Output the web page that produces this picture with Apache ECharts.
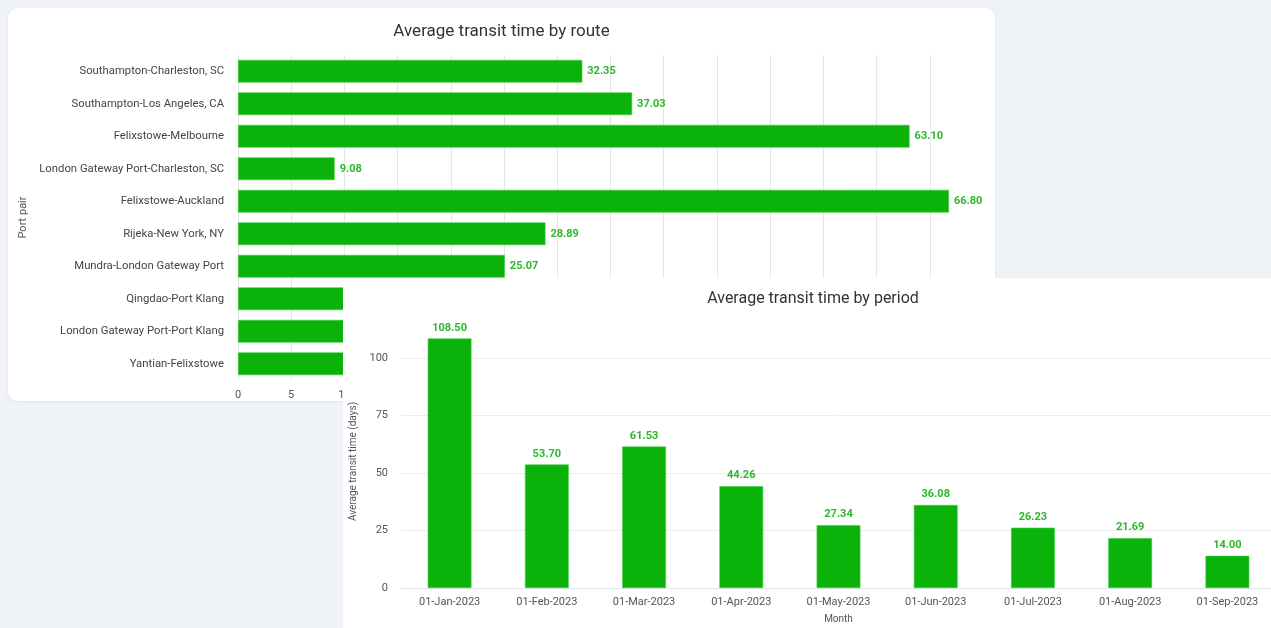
<!DOCTYPE html>
<html>
<head>
<meta charset="utf-8">
<script src="https://cdn.jsdelivr.net/npm/echarts@6/dist/echarts.min.js"></script>
<style>
  html, body { margin: 0; padding: 0; width: 1271px; height: 628px; overflow: hidden; background: #eff3f7; font-family: Roboto, sans-serif; }
  #card1 { position: absolute; left: 8px; top: 8px; width: 987px; height: 393px; background: #fff; border-radius: 10px; box-shadow: 0 1px 4px rgba(0,0,0,0.06); }
  #card2 { position: absolute; left: 343px; top: 278px; width: 940px; height: 350px; background: #fff; border-top-left-radius: 4px; }
  #c1, #c2 { width: 100%; height: 100%; }
</style>
</head>
<body>
<div id="card1"><div id="c1"></div></div>
<div id="card2"><div id="c2"></div></div>
<script>
// ---- Data: route chart ----
const routeCategories = [
  "Southampton-Charleston, SC",
  "Southampton-Los Angeles, CA",
  "Felixstowe-Melbourne",
  "London Gateway Port-Charleston, SC",
  "Felixstowe-Auckland",
  "Rijeka-New York, NY",
  "Mundra-London Gateway Port",
  "Qingdao-Port Klang",
  "London Gateway Port-Port Klang",
  "Yantian-Felixstowe"
];
const routeValues = [32.35, 37.03, 63.10, 9.08, 66.80, 28.89, 25.07, 20.50, 18.00, 15.00];

// ---- Data: period chart ----
const periodCategories = [
  "01-Jan-2023", "01-Feb-2023", "01-Mar-2023", "01-Apr-2023", "01-May-2023",
  "01-Jun-2023", "01-Jul-2023", "01-Aug-2023", "01-Sep-2023"
];
const periodValues = [108.50, 53.70, 61.53, 44.26, 27.34, 36.08, 26.23, 21.69, 14.00];

const barColor = '#0ab20a';
const labelColor = '#2bb82b';
const fontFam = 'Roboto, sans-serif';

const c1 = echarts.init(document.getElementById('c1'));
c1.setOption({
  animation: false,
  textStyle: { fontFamily: fontFam },
  title: {
    text: 'Average transit time by route',
    left: 'center', top: 10,
    textStyle: { fontSize: 17, fontWeight: 'normal', color: '#333', fontFamily: fontFam }
  },
  grid: { left: 230, right: 12, top: 47, bottom: 21, containLabel: false, outerBoundsMode: 'none' },
  xAxis: {
    type: 'value', min: 0, max: 70, interval: 5,
    axisLine: { show: false }, axisTick: { show: false },
    axisLabel: { color: '#555', fontSize: 11, margin: 10, showMaxLabel: false },
    splitLine: { show: true, showMaxLine: false, lineStyle: { color: '#e6e6e6' } }
  },
  yAxis: {
    type: 'category', data: routeCategories, inverse: true,
    name: 'Port pair', nameLocation: 'middle', nameGap: 202,
    nameTextStyle: { color: '#555', fontSize: 11 },
    axisLine: { show: true, lineStyle: { color: '#e0e6f1' } },
    axisTick: { show: false },
    axisLabel: { color: '#444', fontSize: 11.3, margin: 14 }
  },
  series: [{
    type: 'bar', data: routeValues, barCategoryGap: '30%',
    itemStyle: { color: barColor, borderColor: '#3fcc3f', borderWidth: 0.6 },
    label: {
      show: true, position: 'right', distance: 5,
      color: labelColor, fontWeight: 'bold', fontSize: 11,
      formatter: p => p.value.toFixed(2)
    }
  }]
});

const c2 = echarts.init(document.getElementById('c2'));
c2.setOption({
  animation: false,
  textStyle: { fontFamily: fontFam },
  title: {
    text: 'Average transit time by period',
    left: 'center', top: 8,
    textStyle: { fontSize: 16, fontWeight: 'normal', color: '#333', fontFamily: fontFam }
  },
  grid: { left: 58, right: 7, top: 57, bottom: 40, containLabel: false, outerBoundsMode: 'none' },
  xAxis: {
    type: 'category', data: periodCategories,
    name: 'Month', nameLocation: 'middle', nameGap: 26,
    nameTextStyle: { color: '#555', fontSize: 10 },
    axisLine: { show: true, lineStyle: { color: '#dfe5f0' } },
    axisTick: { show: false },
    axisLabel: { color: '#555', fontSize: 11, margin: 9 }
  },
  yAxis: {
    type: 'value', min: 0, max: 110, interval: 25,
    name: 'Average transit time (days)', nameLocation: 'middle', nameGap: 40,
    nameTextStyle: { color: '#555', fontSize: 10 },
    axisLine: { show: false }, axisTick: { show: false },
    axisLabel: { color: '#555', fontSize: 11, margin: 13, showMaxLabel: false },
    splitLine: { show: true, showMaxLine: false, lineStyle: { color: '#ececec' } }
  },
  series: [{
    type: 'bar', data: periodValues, barWidth: '45%',
    itemStyle: { color: barColor, borderColor: '#3fcc3f', borderWidth: 0.6 },
    label: {
      show: true, position: 'top', distance: 5,
      color: labelColor, fontWeight: 'bold', fontSize: 11,
      formatter: p => p.value.toFixed(2)
    }
  }]
});
</script>
</body>
</html>
